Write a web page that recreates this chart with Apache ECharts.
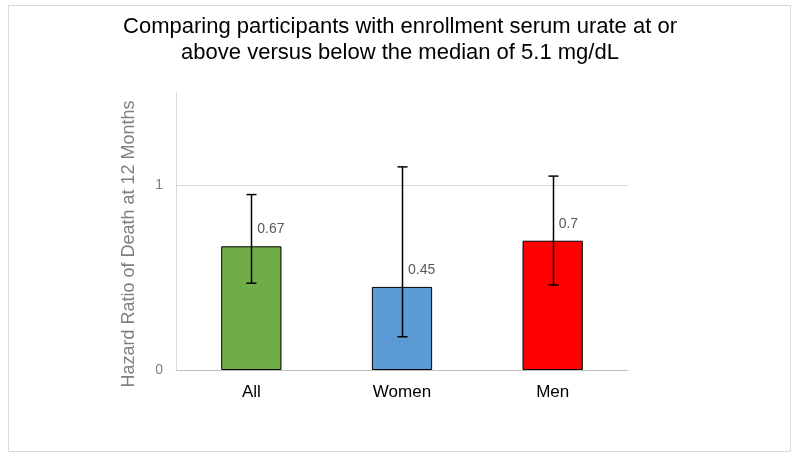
<!DOCTYPE html>
<html><head><meta charset="utf-8">
<script src="https://cdn.jsdelivr.net/npm/echarts@6/dist/echarts.min.js"></script>
<style>html,body{margin:0;padding:0;background:#fff}#c{width:800px;height:458px}</style>
</head><body><div id="c"></div>
<script>
var categories = ['All', 'Women', 'Men'];
var hazardRatios = [0.67, 0.45, 0.7];
var ciLower = [0.47, 0.18, 0.46];
var ciUpper = [0.95, 1.10, 1.05];
var barColors = ['#70AD47', '#5B9BD5', '#FF0000'];
var yTickLabels = [0, 1];

var chart = echarts.init(document.getElementById('c'), null, {renderer: 'canvas'});
var option = {
  animation: false,
  backgroundColor: '#fff',
  title: {
    text: 'Comparing participants with enrollment serum urate at or\nabove versus below the median of 5.1 mg/dL',
    left: 'center', top: 9,
    textStyle: {fontFamily: 'Liberation Sans', fontSize: 22, fontWeight: 'normal', color: '#000', lineHeight: 26}
  },
  graphic: [
    {type: 'rect', shape: {x: 8.5, y: 5.5, width: 782, height: 446}, style: {fill: 'none', stroke: '#d9d9d9', lineWidth: 1}, silent: true, z: -1},
    {type: 'text', x: 129, y: 244, rotation: Math.PI / 2,
     style: {text: 'Hazard Ratio of Death at 12 Months', fill: '#808080', font: '18px "Liberation Sans"', align: 'center', verticalAlign: 'middle'}}
  ],
  grid: {left: 176, right: 172, top: 93, bottom: 88},
  xAxis: {
    type: 'category', data: categories,
    axisLine: {lineStyle: {color: '#bfbfbf'}},
    axisTick: {show: false},
    axisLabel: {color: '#000', fontFamily: 'Liberation Sans', fontSize: 17, margin: 14}
  },
  yAxis: {
    type: 'value', min: 0, max: 1.5, interval: 1,
    axisLine: {show: true, lineStyle: {color: '#d9d9d9'}},
    axisTick: {show: false},
    splitLine: {show: false},
    axisLabel: {color: '#7f7f7f', fontFamily: 'Liberation Sans', fontSize: 14, margin: 13,
      formatter: function (v) { return yTickLabels.indexOf(v) >= 0 ? String(v) : ''; }}
  },
  series: [
    {
      type: 'bar', barWidth: '40%',
      data: hazardRatios.map(function (v, i) {
        return {value: v, itemStyle: {color: barColors[i], borderColor: '#000', borderWidth: 1}};
      }),
      label: {show: true, position: 'top', align: 'left', offset: [6, -5],
        color: '#595959', fontFamily: 'Liberation Sans', fontSize: 14},
      markLine: {
        silent: true, symbol: ['none', 'none'], label: {show: false},
        lineStyle: {color: '#d9d9d9', type: 'solid', width: 1},
        data: [{yAxis: 1}]
      },
      z: 2
    },
    {
      type: 'custom',
      data: categories.map(function (c, i) { return [i, ciLower[i], ciUpper[i]]; }),
      renderItem: function (params, api) {
        var lo = api.coord([api.value(0), api.value(1)]);
        var hi = api.coord([api.value(0), api.value(2)]);
        var x = Math.round(lo[0]) + 0.5;
        var cap = 5;
        var s = {stroke: '#000', lineWidth: 1.5};
        return {type: 'group', children: [
          {type: 'line', shape: {x1: x, y1: lo[1], x2: x, y2: hi[1]}, style: s},
          {type: 'line', shape: {x1: x - cap, y1: lo[1], x2: x + cap, y2: lo[1]}, style: s},
          {type: 'line', shape: {x1: x - cap, y1: hi[1], x2: x + cap, y2: hi[1]}, style: s}
        ]};
      },
      z: 5
    }
  ]
};
chart.setOption(option);
</script></body></html>
